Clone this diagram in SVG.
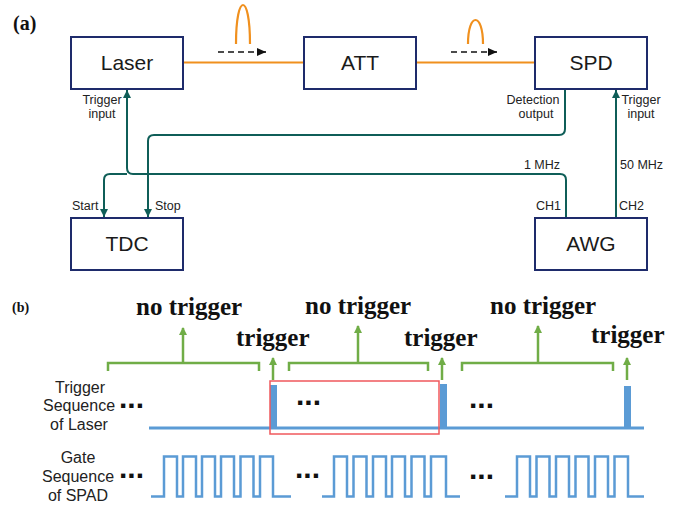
<svg xmlns="http://www.w3.org/2000/svg" width="697" height="507" viewBox="0 0 697 507">
<style>
.box{fill:#fff;stroke:#1e2b6b;stroke-width:2}
.bl{font-family:"Liberation Sans",Arial,sans-serif;font-size:21px;fill:#1a1a1a;text-anchor:middle}
.sm{font-family:"Liberation Sans",Arial,sans-serif;font-size:12.5px;fill:#222}
.mid{text-anchor:middle}
.end{text-anchor:end}
.teal{fill:none;stroke:#0f5e58;stroke-width:2}
.orange{fill:none;stroke:#f0901e;stroke-width:2.2}
.dash{stroke:#111;stroke-width:1.6;stroke-dasharray:6 4}
.grn{fill:none;stroke:#70ad47;stroke-width:2.5}
.blue{fill:none;stroke:#5b9bd5;stroke-width:2.5}
.bt{font-family:"Liberation Serif","Times New Roman",serif;font-weight:bold;font-size:25px;fill:#111}
.lab{font-family:"Liberation Sans",Arial,sans-serif;font-size:16px;fill:#222;text-anchor:middle}
.dots{font-family:"Liberation Sans",Arial,sans-serif;font-weight:bold;font-size:30px;fill:#111}
</style>
<defs>
<marker id="ta" markerWidth="8" markerHeight="8" viewBox="0 0 8 8" refX="8" refY="4" orient="auto" markerUnits="userSpaceOnUse">
<path d="M0,0 L8,4 L0,8 Z" fill="#0f5e58"/>
</marker>
<marker id="ka" markerWidth="9" markerHeight="8" viewBox="0 0 9 8" refX="9" refY="4" orient="auto" markerUnits="userSpaceOnUse">
<path d="M0,0 L9,4 L0,8 Z" fill="#111"/>
</marker>
<marker id="ga" markerWidth="8" markerHeight="8" viewBox="0 0 8 8" refX="7" refY="4" orient="auto" markerUnits="userSpaceOnUse">
<path d="M0,0 L8,4 L0,8 Z" fill="#70ad47"/>
</marker>
</defs>
<rect width="697" height="507" fill="#fff"/>
<text x="13" y="30" font-family="Liberation Serif,serif" font-weight="bold" font-size="20" fill="#111">(a)</text>
<g id="connectors">
<path class="orange" d="M183,62.5 H304"/>
<path class="orange" d="M416,62.5 H535"/>
<path class="orange" d="M236,44 C236,-8 250,-8 250,44"/>
<path class="orange" d="M468,44 C468,12 483,12 483,44"/>
<path class="dash" d="M218,52 H258"/>
<line x1="257" y1="52" x2="266" y2="52" stroke="#111" stroke-width="1.6" marker-end="url(#ka)"/>
<path class="dash" d="M451,52 H489"/>
<line x1="488" y1="52" x2="497" y2="52" stroke="#111" stroke-width="1.6" marker-end="url(#ka)"/>
<path class="teal" d="M566,218 V180 Q566,174 560,174 H133 Q127,174 127,168 V90" marker-end="url(#ta)"/>
<path class="teal" d="M127,174 H110 Q104,174 104,180 V217" marker-end="url(#ta)"/>
<path class="teal" d="M565,89 V129 Q565,135 559,135 H154 Q148,135 148,141 V217" marker-end="url(#ta)"/>
<path class="teal" d="M616,218 V90" marker-end="url(#ta)"/>
</g>
<g id="laser"><rect class="box" x="71" y="37" width="112" height="52"/><text class="bl" x="127" y="70">Laser</text></g>
<g id="att"><rect class="box" x="304" y="37" width="112" height="52"/><text class="bl" x="360" y="70">ATT</text></g>
<g id="spd"><rect class="box" x="535" y="37" width="112" height="52"/><text class="bl" x="591" y="70">SPD</text></g>
<g id="tdc"><rect class="box" x="71" y="218" width="112" height="52"/><text class="bl" x="127" y="251">TDC</text></g>
<g id="awg"><rect class="box" x="535" y="218" width="112" height="52"/><text class="bl" x="591" y="251">AWG</text></g>
<g id="labels-a">
<text class="sm mid" x="102" y="104">Trigger</text>
<text class="sm mid" x="102" y="118">input</text>
<text class="sm mid" x="533" y="104">Detection</text>
<text class="sm mid" x="536" y="118">output</text>
<text class="sm mid" x="641" y="104">Trigger</text>
<text class="sm mid" x="641" y="118">input</text>
<text class="sm" x="72" y="210">Start</text>
<text class="sm" x="155" y="210">Stop</text>
<text class="sm end" x="560" y="169">1 MHz</text>
<text class="sm" x="620" y="169">50 MHz</text>
<text class="sm end" x="561" y="210">CH1</text>
<text class="sm" x="619" y="210">CH2</text>
</g>
<text x="12" y="312" font-family="Liberation Serif,serif" font-weight="bold" font-size="14" fill="#111">(b)</text>
<g id="annotations-b">
<text class="bt" x="136" y="315">no trigger</text>
<text class="bt" x="236" y="346">trigger</text>
<text class="bt" x="305" y="314">no trigger</text>
<text class="bt" x="404" y="346">trigger</text>
<text class="bt" x="490" y="314">no trigger</text>
<text class="bt" x="591" y="343">trigger</text>
<path class="grn" d="M108,371 V363 H259 V371"/>
<path class="grn" d="M183,363 V328" marker-end="url(#ga)"/>
<path class="grn" d="M289,371 V363 H428 V371"/>
<path class="grn" d="M358,363 V326" marker-end="url(#ga)"/>
<path class="grn" d="M462,371 V363 H613 V371"/>
<path class="grn" d="M538,363 V326" marker-end="url(#ga)"/>
<path class="grn" d="M273,380 V358" marker-end="url(#ga)"/>
<path class="grn" d="M442,380 V358" marker-end="url(#ga)"/>
<path class="grn" d="M627,380 V358" marker-end="url(#ga)"/>
</g>
<g id="trigger-seq">
<text class="lab" x="80" y="393">Trigger</text>
<text class="lab" x="79" y="411">Sequence</text>
<text class="lab" x="79" y="430">of Laser</text>
<text class="dots" x="119" y="408">...</text>
<line x1="149" y1="428" x2="644" y2="428" stroke="#5b9bd5" stroke-width="3"/>
<rect x="270" y="385" width="7" height="44" fill="#5b9bd5"/>
<rect x="440" y="384" width="7" height="45" fill="#5b9bd5"/>
<rect x="624" y="386" width="7" height="43" fill="#5b9bd5"/>
<rect x="270" y="381" width="169" height="53" fill="none" stroke="#f0585c" stroke-width="1.5"/>
<text class="dots" x="296" y="405">...</text>
<text class="dots" x="469" y="408">...</text>
</g>
<g id="gate-seq">
<text class="lab" x="78" y="463">Gate</text>
<text class="lab" x="78" y="482">Sequence</text>
<text class="lab" x="78" y="501">of SPAD</text>
<text class="dots" x="119" y="478">...</text>
<text class="dots" x="295" y="478">...</text>
<text class="dots" x="469" y="479">...</text>
<path class="blue" d="M151,496.5 H164 V456.5 H177 V496.5 H183 V456.5 H196 V496.5 H202 V456.5 H215 V496.5 H221 V456.5 H234 V496.5 H240.5 V456.5 H253.5 V496.5 H260 V456.5 H273 V496.5 H291"/>
<path class="blue" d="M322,496.5 H334 V456.5 H347 V496.5 H353.5 V456.5 H366.5 V496.5 H373 V456.5 H386 V496.5 H392 V456.5 H405 V496.5 H411.5 V456.5 H424.5 V496.5 H431 V456.5 H446 V496.5 H460"/>
<path class="blue" d="M505,496.5 H517 V456.5 H530 V496.5 H536.5 V456.5 H549.5 V496.5 H556 V456.5 H569 V496.5 H575.5 V456.5 H588.5 V496.5 H595 V456.5 H608 V496.5 H614.5 V456.5 H628 V496.5 H644"/>
</g>
</svg>
